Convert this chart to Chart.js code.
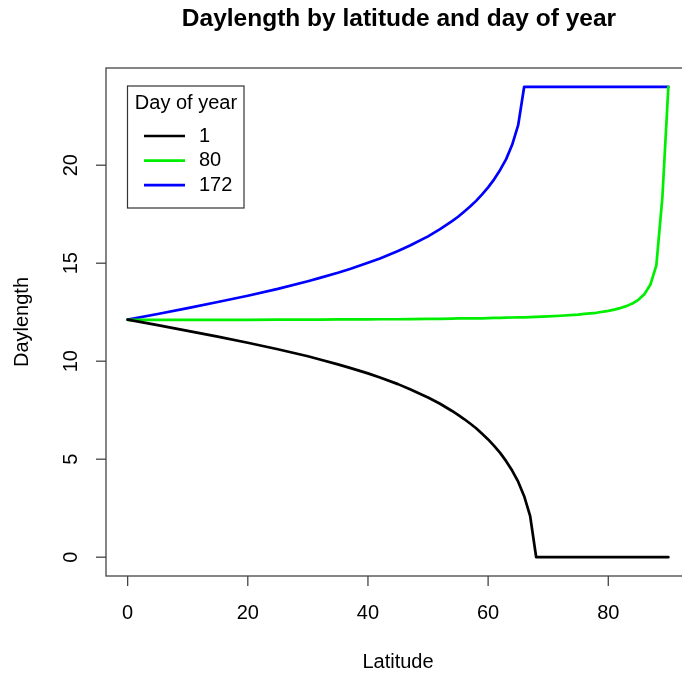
<!DOCTYPE html>
<html>
<head>
<meta charset="utf-8">
<script src="https://cdn.jsdelivr.net/npm/chart.js@4/dist/chart.umd.min.js"></script>
<style>
  html, body { margin: 0; padding: 0; background: #fff; overflow: hidden; }
  canvas { display: block; }
</style>
</head>
<body>
<canvas id="dayChart" width="700" height="674"></canvas>
<script>
// latitudes sampled (denser where the curves bend hard)
const latitude = [0, 5, 10, 15, 20, 25, 30, 32, 35, 37, 40, 42, 45, 47, 50, 52, 54, 55, 56, 57, 58, 59, 60, 61, 62, 63, 64, 65, 66, 67, 68,
                  70, 72, 75, 76, 78, 80, 81, 82, 83, 84, 85, 86, 87, 88, 89, 90];
const day1   = [12.12, 11.84, 11.55, 11.25, 10.94, 10.61, 10.25, 10.09, 9.84, 9.66, 9.38, 9.17, 8.83, 8.57, 8.15, 7.83, 7.46, 7.26, 7.05, 6.82, 6.58, 6.30, 6.01, 5.68, 5.32, 4.90, 4.42, 3.85, 3.11, 2.09, 0,
                0, 0, 0, 0, 0, 0, 0, 0, 0, 0, 0, 0, 0, 0, 0, 0];
const day80  = [12.11, 12.11, 12.11, 12.11, 12.11, 12.12, 12.12, 12.12, 12.13, 12.13, 12.13, 12.14, 12.14, 12.15, 12.16, 12.16, 12.17, 12.18, 12.18, 12.18, 12.19, 12.19, 12.20, 12.21, 12.21, 12.22, 12.23, 12.24, 12.24, 12.25, 12.26,
                12.29, 12.32, 12.38, 12.41, 12.47, 12.57, 12.63, 12.71, 12.81, 12.94, 13.13, 13.42, 13.90, 14.89, 18.34, 24];
const day172 = [12.12, 12.41, 12.71, 13.02, 13.34, 13.69, 14.08, 14.25, 14.51, 14.70, 15.02, 15.24, 15.62, 15.90, 16.37, 16.74, 17.15, 17.37, 17.63, 17.89, 18.18, 18.51, 18.87, 19.28, 19.76, 20.31, 21.04, 22.04, 24, 24, 24,
                24, 24, 24, 24, 24, 24, 24, 24, 24, 24, 24, 24, 24, 24, 24, 24];
const xTicks = [0, 20, 40, 60, 80];
const yTicks = [0, 5, 10, 15, 20];

const FONT = '"Liberation Sans", Arial, Helvetica, sans-serif';

function pts(vals) {
  return latitude.map((x, i) => ({ x: x, y: vals[i] }));
}

// R-style box, axes, titles and legend
const rAxes = {
  id: 'rAxes',
  afterDraw(chart) {
    const ctx = chart.ctx;
    const a = chart.chartArea;
    const xs = chart.scales.x, ys = chart.scales.y;
    ctx.save();
    ctx.strokeStyle = '#444';
    ctx.lineWidth = 1.3;
    ctx.strokeRect(a.left, a.top, a.right - a.left, a.bottom - a.top);

    ctx.fillStyle = '#000';
    ctx.font = '20px ' + FONT;
    // x axis
    ctx.textAlign = 'center';
    ctx.textBaseline = 'middle';
    xTicks.forEach(v => {
      const px = xs.getPixelForValue(v);
      ctx.beginPath();
      ctx.moveTo(px, a.bottom);
      ctx.lineTo(px, a.bottom + 10);
      ctx.stroke();
      ctx.fillText(String(v), px, 613);
    });
    // y axis
    yTicks.forEach(v => {
      const py = ys.getPixelForValue(v);
      ctx.beginPath();
      ctx.moveTo(a.left, py);
      ctx.lineTo(a.left - 10, py);
      ctx.stroke();
      ctx.save();
      ctx.translate(71, py);
      ctx.rotate(-Math.PI / 2);
      ctx.fillText(String(v), 0, 0);
      ctx.restore();
    });
    ctx.fillText('Latitude', 398, 662);
    ctx.save();
    ctx.translate(22, 322);
    ctx.rotate(-Math.PI / 2);
    ctx.fillText('Daylength', 0, 0);
    ctx.restore();

    ctx.font = 'bold 24.5px ' + FONT;
    ctx.fillText('Daylength by latitude and day of year', 399, 19);

    // legend
    ctx.strokeStyle = '#333';
    ctx.lineWidth = 1.2;
    ctx.strokeRect(127.5, 86, 116.5, 122);
    ctx.font = '20px ' + FONT;
    ctx.fillText('Day of year', 186, 103);
    ctx.textAlign = 'left';
    chart.data.datasets.forEach((ds, i) => {
      const y = 136 + i * 24.6;
      ctx.strokeStyle = ds.borderColor;
      ctx.lineWidth = 2.7;
      ctx.beginPath();
      ctx.moveTo(144, y);
      ctx.lineTo(185, y);
      ctx.stroke();
      ctx.fillStyle = '#000';
      ctx.fillText(ds.label, 199, y);
    });
    ctx.restore();
  }
};

new Chart(document.getElementById('dayChart'), {
  type: 'scatter',
  data: {
    datasets: [
      { label: '1', data: pts(day1), borderColor: '#000000', showLine: true },
      { label: '80', data: pts(day80), borderColor: '#00ee00', showLine: true },
      { label: '172', data: pts(day172), borderColor: '#0000ff', showLine: true }
    ]
  },
  options: {
    responsive: false,
    animation: false,
    devicePixelRatio: 1,
    layout: { padding: { left: 106, top: 68, right: 10, bottom: 98 } },
    elements: {
      point: { radius: 0, hoverRadius: 0 },
      line: { borderWidth: 2.7, tension: 0, borderJoinStyle: 'round', borderCapStyle: 'round' }
    },
    scales: {
      x: { type: 'linear', min: -3.6, max: 93.6, display: false },
      y: { type: 'linear', min: -0.96, max: 24.96, display: false }
    },
    plugins: {
      legend: { display: false },
      tooltip: { enabled: false }
    }
  },
  plugins: [rAxes]
});
</script>
</body>
</html>
